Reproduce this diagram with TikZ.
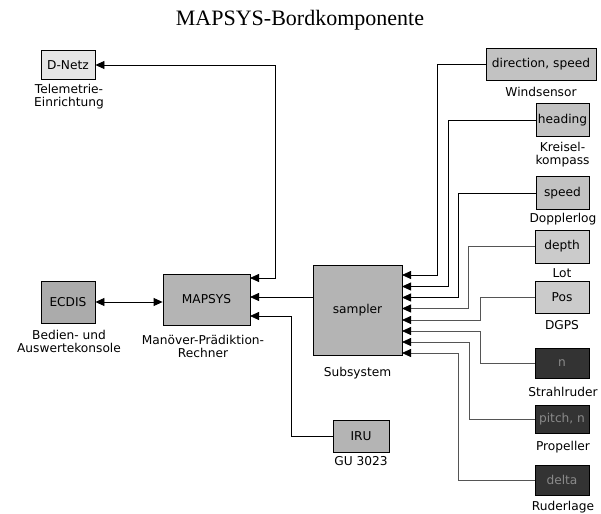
\documentclass[tikz,border=0pt]{standalone}
\usepackage{fontspec}
\setmainfont{DejaVu Sans}
\newfontfamily\titlefont{Liberation Serif}
\usetikzlibrary{arrows.meta}
\definecolor{boxA}{HTML}{E6E6E6}
\definecolor{boxB}{HTML}{ABABAB}
\definecolor{boxC}{HTML}{B4B4B4}
\definecolor{boxD}{HTML}{C2C2C2}
\definecolor{boxE}{HTML}{CBCBCB}
\definecolor{boxDark}{HTML}{333333}
\definecolor{txtDark}{HTML}{8A8A8A}
\definecolor{lineGray}{HTML}{555555}
\tikzset{
  blk/.style={draw=black, line width=0.8pt, inner sep=0pt, font=\fontsize{12.2}{13}\selectfont, anchor=center},
  lbl/.style={inner sep=0pt, align=center, font=\fontsize{12.2}{13}\selectfont},
  con/.style={line width=0.8pt, draw=black, -{Triangle[length=9pt,width=8pt,black]}},
  con2/.style={line width=0.8pt, draw=lineGray, -{Triangle[length=9pt,width=8pt,black]}},
  bicon/.style={line width=0.8pt, draw=black, {Triangle[length=9pt,width=8pt]}-{Triangle[length=9pt,width=8pt]}},
}
\begin{document}
\begin{tikzpicture}[x=1pt,y=-1pt]
\useasboundingbox (0,0) rectangle (601,513);
\node[font=\titlefont\fontsize{22}{24}\selectfont] (title) at (300,20) {MAPSYS-Bordkomponente};

% left boxes
\node[blk, fill=boxA, minimum width=54pt, minimum height=29pt] (dnetz) at (68,65) {D-Netz};
\node[lbl] (dnetzl) at (69,97) {Telemetrie-\\Einrichtung};
\node[blk, fill=boxB, minimum width=54pt, minimum height=42pt] (ecdis) at (68,302) {ECDIS};
\node[lbl] (ecdisl) at (69,341) {Bedien- und\\Auswertekonsole};
\node[blk, fill=boxC, minimum width=87pt, minimum height=51pt] (mapsys) at (206.5,299.5) {MAPSYS};
\node[lbl] (mapsysl) at (203,346) {Manöver-Prädiktion-\\Rechner};
\node[blk, fill=boxC, minimum width=89pt, minimum height=90pt] (sampler) at (357.5,310) {sampler};
\node[lbl] (samplerl) at (357.5,373) {Subsystem};
\node[blk, fill=boxC, minimum width=56pt, minimum height=32pt] (iru) at (361,436) {IRU};
\node[lbl] (irul) at (361,461) {GU 3023};

% right sensors
\node[blk, fill=boxD, minimum width=110pt, minimum height=32pt] (wind) at (541,64) {direction, speed};
\node[lbl] (windl) at (541,92) {Windsensor};
\node[blk, fill=boxD, minimum width=53pt, minimum height=33pt] (head) at (562.5,120) {heading};
\node[lbl] (headl) at (562.5,155) {Kreisel-\\kompass};
\node[blk, fill=boxD, minimum width=53pt, minimum height=33pt] (speed) at (562.5,193) {speed};
\node[lbl] (speedl) at (563,219) {Dopplerlog};
\node[blk, fill=boxE, minimum width=54pt, minimum height=33pt] (depth) at (562,246.5) {depth};
\node[lbl] (depthl) at (562,273) {Lot};
\node[blk, fill=boxE, minimum width=54pt, minimum height=32pt] (pos) at (562,297.5) {Pos};
\node[lbl] (posl) at (562,325) {DGPS};
\node[blk, fill=boxDark, text=txtDark, minimum width=54pt, minimum height=30pt] (strahl) at (562,363.5) {n};
\node[lbl] (strahll) at (563,392) {Strahlruder};
\node[blk, fill=boxDark, text=txtDark, minimum width=54pt, minimum height=28pt] (prop) at (562,419.5) {pitch, n};
\node[lbl] (propl) at (563,447) {Propeller};
\node[blk, fill=boxDark, text=txtDark, minimum width=54pt, minimum height=30pt] (delta) at (562,480) {delta};
\node[lbl] (deltal) at (563,507) {Ruderlage};

% input points on sampler and mapsys
\coordinate (s1) at (402,275);
\coordinate (s2) at (402,286.5);
\coordinate (s3) at (402,297.5);
\coordinate (s4) at (402,308.5);
\coordinate (s5) at (402,320);
\coordinate (s6) at (402,331);
\coordinate (s7) at (402,342);
\coordinate (s8) at (402,353);
\coordinate (m1) at (250,278);
\coordinate (m2) at (250,297);
\coordinate (m3) at (250,316);

% connectors
\draw[con] (wind.west) -| (437,275) -- (s1);
\draw[con] (head.west) -| (448,286.5) -- (s2);
\draw[con] (speed.west) -| (458,297.5) -- (s3);
\draw[con2] (depth.west) -| (468,308.5) -- (s4);
\draw[con2] (pos.west) -| (480,320) -- (s5);
\draw[con2] (strahl.west) -| (480,331) -- (s6);
\draw[con2] (prop.west) -| (469,342) -- (s7);
\draw[con2] (delta.west) -| (458,353) -- (s8);

\draw[con] (sampler.west |- m2) -- (m2);
\draw[con] (iru.west) -| (291,316) -- (m3);
\draw[bicon] (dnetz.east) -| (275,278) -- (m1);
\draw[bicon] (ecdis.east) -- (ecdis.east -| mapsys.west);
\end{tikzpicture}
\end{document}
